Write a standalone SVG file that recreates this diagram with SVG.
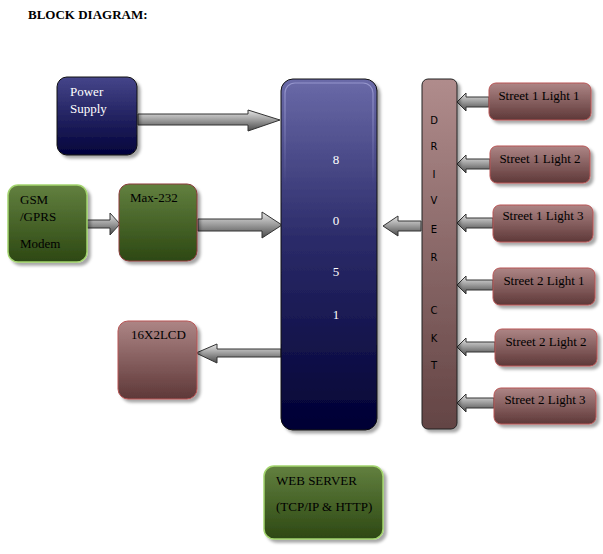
<svg xmlns="http://www.w3.org/2000/svg" width="603" height="554" viewBox="0 0 603 554">
<defs>
<linearGradient id="gBlue" x1="0" y1="0" x2="0" y2="1"><stop offset="0" stop-color="#45458a"/><stop offset="1" stop-color="#02023a"/></linearGradient>
<linearGradient id="gMcu" x1="0" y1="0" x2="0" y2="1"><stop offset="0" stop-color="#6a6aa8"/><stop offset="0.45" stop-color="#2c2c6a"/><stop offset="1" stop-color="#000033"/></linearGradient>
<linearGradient id="gGreen" x1="0" y1="0" x2="0" y2="1"><stop offset="0" stop-color="#62803f"/><stop offset="1" stop-color="#2d4813"/></linearGradient>
<linearGradient id="gBrown" x1="0" y1="0" x2="0" y2="1"><stop offset="0" stop-color="#ad8585"/><stop offset="1" stop-color="#5e3838"/></linearGradient>
<linearGradient id="gDrv" x1="0" y1="0" x2="0" y2="1"><stop offset="0" stop-color="#b08c8c"/><stop offset="1" stop-color="#634444"/></linearGradient>
<linearGradient id="gArrow" x1="0" y1="0" x2="0" y2="1"><stop offset="0" stop-color="#e6e6e6"/><stop offset="0.5" stop-color="#9a9a9a"/><stop offset="1" stop-color="#4a4a4a"/></linearGradient>
<linearGradient id="gHi" x1="0" y1="0" x2="0" y2="1"><stop offset="0" stop-color="#9a9ad0" stop-opacity="0.9"/><stop offset="0.3" stop-color="#9a9ad0" stop-opacity="0"/></linearGradient>
<filter id="sh" x="-10%" y="-10%" width="130%" height="130%"><feDropShadow dx="3" dy="3" stdDeviation="1.5" flood-color="#000" flood-opacity="0.35"/></filter>
</defs>
<style>
.t{font-family:"Liberation Serif","Times New Roman",serif;font-size:13px;}
.w{fill:#ffffff;}
.k{fill:#000000;}
.d{font-family:"DejaVu Sans",Verdana,sans-serif;font-size:10px;fill:#000;text-anchor:middle;}
.arr{fill:url(#gArrow);stroke:#333;stroke-width:1;stroke-linejoin:miter;}
.blue{fill:url(#gBlue);stroke:#111;stroke-width:1;filter:url(#sh);}
.mcu{fill:url(#gMcu);stroke:#111;stroke-width:1;filter:url(#sh);}
.mcuin{fill:none;stroke:url(#gHi);stroke-width:1.2;}
.grn1{fill:url(#gGreen);stroke:#a3d46e;stroke-width:1.5;filter:url(#sh);}
.grn2{fill:url(#gGreen);stroke:#8a3a3a;stroke-width:1;filter:url(#sh);}
.brn{fill:url(#gBrown);stroke:#b85555;stroke-width:1;filter:url(#sh);}
.drv{fill:url(#gDrv);stroke:#222;stroke-width:1;filter:url(#sh);}
</style>
<rect width="603" height="554" fill="#ffffff"/>
<text x="28" y="19" class="t" style="font-weight:bold">BLOCK DIAGRAM:</text>

<g id="connectors">
<path class="arr" d="M138,114 H248 V110 L280,120 L248,131 V125 H138 Z"/>
<path class="arr" d="M87,220 H110 V213 L120,224 L110,235 V228 H87 Z"/>
<path class="arr" d="M198,219 H262 V212 L282,225 L262,238 V231 H198 Z"/>
<path class="arr" d="M421,221 H398 V216 L383,226 L398,236 V231 H421 Z"/>
<path class="arr" d="M281,349 H217 V344 L196,353 L217,363 V357 H281 Z"/>
<path class="arr" d="M489,97 H466 V93 L457,102 L466,111 V107 H489 Z"/>
<path class="arr" d="M490,159 H466 V155 L457,164 L466,173 V169 H490 Z"/>
<path class="arr" d="M493,218 H466 V214 L457,223 L466,232 V228 H493 Z"/>
<path class="arr" d="M493,280 H466 V276 L457,285 L466,294 V290 H493 Z"/>
<path class="arr" d="M495,342 H466 V338 L457,347 L466,356 V352 H495 Z"/>
<path class="arr" d="M494,398 H466 V394 L457,403 L466,412 V408 H494 Z"/>
</g>

<g id="power">
<rect class="blue" x="57" y="77" width="80" height="78" rx="10"/>
<text class="t w" x="70" y="96">Power</text>
<text class="t w" x="70" y="113">Supply</text>
</g>

<g id="mcu">
<rect class="mcu" x="281" y="79" width="96" height="351" rx="12"/>
<rect class="mcuin" x="285" y="83" width="88" height="343" rx="10"/>
<text class="t w" x="336" y="164" text-anchor="middle">8</text>
<text class="t w" x="336" y="225" text-anchor="middle">0</text>
<text class="t w" x="336" y="276" text-anchor="middle">5</text>
<text class="t w" x="336" y="319" text-anchor="middle">1</text>
</g>

<g id="driver">
<rect class="drv" x="422" y="79" width="35" height="350" rx="6"/>
<text class="d" x="434" y="124">D</text>
<text class="d" x="434" y="150">R</text>
<text class="d" x="434" y="178">I</text>
<text class="d" x="434" y="204">V</text>
<text class="d" x="434" y="233">E</text>
<text class="d" x="434" y="261">R</text>
<text class="d" x="434" y="314">C</text>
<text class="d" x="434" y="342">K</text>
<text class="d" x="434" y="369">T</text>
</g>

<g id="gsm">
<rect class="grn1" x="8" y="185" width="79" height="77" rx="10"/>
<text class="t k" x="20" y="204">GSM</text>
<text class="t k" x="20" y="221">/GPRS</text>
<text class="t k" x="20" y="248">Modem</text>
</g>

<g id="max232">
<rect class="grn2" x="119" y="184" width="78" height="77" rx="10"/>
<text class="t k" x="130" y="202">Max-232</text>
</g>

<g id="lcd">
<rect class="brn" x="118" y="321" width="79" height="78" rx="10"/>
<text class="t k" x="131" y="339">16X2LCD</text>
</g>

<g id="webserver">
<rect class="grn1" x="264" y="466" width="119" height="73" rx="10"/>
<text class="t k" x="276" y="485">WEB SERVER</text>
<text class="t k" x="276" y="511">(TCP/IP &amp; HTTP)</text>
</g>

<g id="s1l1"><rect class="brn" x="489" y="83" width="102" height="37" rx="7"/><text class="t k" x="539" y="100" text-anchor="middle">Street 1 Light 1</text></g>
<g id="s1l2"><rect class="brn" x="490" y="146" width="100" height="37" rx="7"/><text class="t k" x="540" y="163" text-anchor="middle">Street 1 Light 2</text></g>
<g id="s1l3"><rect class="brn" x="493" y="205" width="100" height="37" rx="7"/><text class="t k" x="543" y="220" text-anchor="middle">Street 1 Light 3</text></g>
<g id="s2l1"><rect class="brn" x="493" y="268" width="102" height="37" rx="7"/><text class="t k" x="544" y="285" text-anchor="middle">Street 2 Light 1</text></g>
<g id="s2l2"><rect class="brn" x="495" y="329" width="102" height="37" rx="7"/><text class="t k" x="546" y="346" text-anchor="middle">Street 2 Light 2</text></g>
<g id="s2l3"><rect class="brn" x="494" y="388" width="102" height="36" rx="7"/><text class="t k" x="545" y="404" text-anchor="middle">Street 2 Light 3</text></g>
</svg>
